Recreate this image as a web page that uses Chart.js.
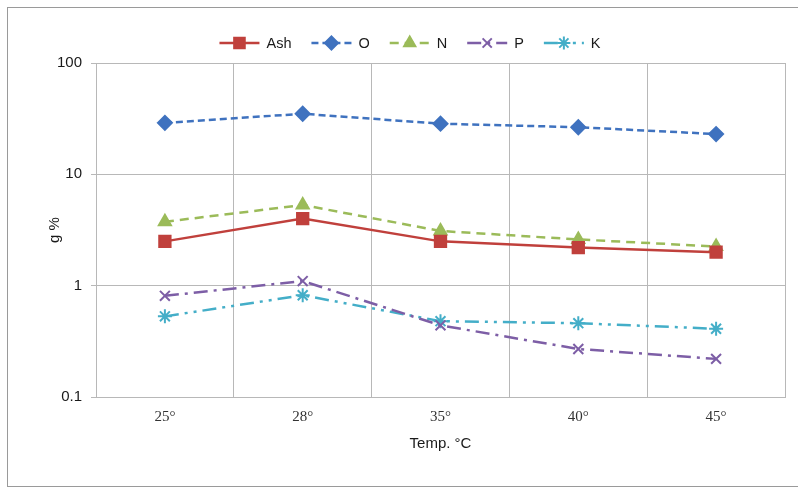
<!DOCTYPE html>
<html>
<head>
<meta charset="utf-8">
<script src="https://cdn.jsdelivr.net/npm/chart.js@4/dist/chart.umd.min.js"></script>
<style>
  html, body { margin: 0; padding: 0; background: #fff; }
  #wrap { width: 798px; height: 489px; }
</style>
</head>
<body>
<div id="wrap"><canvas id="chart" width="798" height="489"></canvas></div>
<script>
// datos
const categories = ['25°', '28°', '35°', '40°', '45°'];
const ashValues = [2.5, 4.0, 2.5, 2.2, 2.0];
const oValues = [29, 35, 28.5, 26.5, 23];
const nValues = [3.75, 5.3, 3.1, 2.6, 2.25];
const pValues = [0.81, 1.1, 0.44, 0.27, 0.22];
const kValues = [0.53, 0.82, 0.48, 0.46, 0.41];
const yTicks = [0.1, 1, 10, 100];

function serie(label, data, color, dash, style, radius) {
  return {
    label: label,
    data: data,
    borderColor: color,
    backgroundColor: color,
    borderWidth: 2.5,
    borderDash: dash,
    pointStyle: style,
    pointRadius: radius,
    pointBorderWidth: 2,
    pointBorderColor: color,
    pointBackgroundColor: color,
    tension: 0,
    fill: false
  };
}

// leyenda dibujada a mano: linea + marcador + texto
const legendPlugin = {
  id: 'legendaManual',
  afterDraw(chart) {
    const ctx = chart.ctx;
    const sets = chart.data.datasets;
    ctx.save();
    ctx.font = '14.5px "Liberation Sans", Arial, sans-serif';
    const lineW = 40, gapText = 7, gapItem = 20;
    let total = 0;
    sets.forEach((ds, i) => {
      total += lineW + gapText + ctx.measureText(ds.label).width;
      if (i < sets.length - 1) total += gapItem;
    });
    let x = 410 - total / 2;
    const y = 43;
    sets.forEach(ds => {
      ctx.strokeStyle = ds.borderColor;
      ctx.fillStyle = ds.borderColor;
      ctx.lineWidth = 2.5;
      ctx.setLineDash(ds.borderDash || []);
      ctx.beginPath();
      ctx.moveTo(x, y);
      ctx.lineTo(x + lineW, y);
      ctx.stroke();
      ctx.setLineDash([]);
      ctx.lineWidth = 2;
      Chart.helpers.drawPoint(ctx, { pointStyle: ds.pointStyle, radius: ds.pointRadius - 0.5, rotation: 0, borderWidth: 2 }, x + lineW / 2, y);
      x += lineW + gapText;
      ctx.fillStyle = '#1a1a1a';
      ctx.textBaseline = 'middle';
      ctx.fillText(ds.label, x, y + 1);
      x += ctx.measureText(ds.label).width + gapItem;
    });
    ctx.restore();
  }
};

// marco exterior
const framePlugin = {
  id: 'marco',
  beforeDraw(chart) {
    const ctx = chart.ctx;
    ctx.save();
    ctx.fillStyle = '#fff';
    ctx.fillRect(0, 0, chart.width, chart.height);
    ctx.strokeStyle = '#9a9a9a';
    ctx.lineWidth = 1;
    ctx.strokeRect(7.5, 7.5, 800, 479);
    ctx.restore();
  }
};

const chart = new Chart(document.getElementById('chart'), {
  type: 'line',
  data: {
    labels: categories,
    datasets: [
      serie('Ash', ashValues, '#c0403c', [], 'rect', 8),
      serie('O', oValues, '#3f72bf', [7, 4], 'rectRot', 7),
      serie('N', nValues, '#9bbb59', [9, 6], 'triangle', 7),
      serie('P', pValues, '#7d5ea6', [14, 6, 3, 6], 'crossRot', 7),
      serie('K', kValues, '#44aec8', [14, 6, 3, 6, 3, 6], 'star', 7)
    ]
  },
  options: {
    responsive: false,
    animation: false,
    layout: { padding: { left: 0, right: 13, top: 63, bottom: 32 } },
    plugins: {
      legend: { display: false },
      tooltip: { enabled: false }
    },
    scales: {
      x: {
        offset: true,
        grid: { offset: true, color: '#b8b8b8', drawTicks: false },
        border: { color: '#b8b8b8' },
        ticks: {
          padding: 11,
          color: '#333',
          font: { family: '"Liberation Serif", "Times New Roman", serif', size: 15 }
        },
        title: {
          display: true,
          text: 'Temp. °C',
          color: '#1a1a1a',
          font: { family: '"Liberation Sans", Arial, sans-serif', size: 15 },
          padding: { top: 6, bottom: 4 }
        },
        afterFit(scale) { scale.height = 60; }
      },
      y: {
        type: 'logarithmic',
        min: 0.1,
        max: 100,
        grid: { color: '#b8b8b8', tickLength: 5 },
        border: { color: '#b8b8b8' },
        afterBuildTicks(scale) {
          scale.ticks = yTicks.map(v => ({ value: v }));
        },
        ticks: {
          padding: 9,
          color: '#1a1a1a',
          font: { family: '"Liberation Sans", Arial, sans-serif', size: 15 },
          callback: function (value) { return String(value); }
        },
        title: {
          display: true,
          text: 'g %',
          color: '#1a1a1a',
          font: { family: '"Liberation Sans", Arial, sans-serif', size: 15 },
          padding: { top: 46, bottom: 0 }
        },
        afterFit(scale) { scale.width = 96; }
      }
    }
  },
  plugins: [framePlugin, legendPlugin]
});
</script>
</body>
</html>
